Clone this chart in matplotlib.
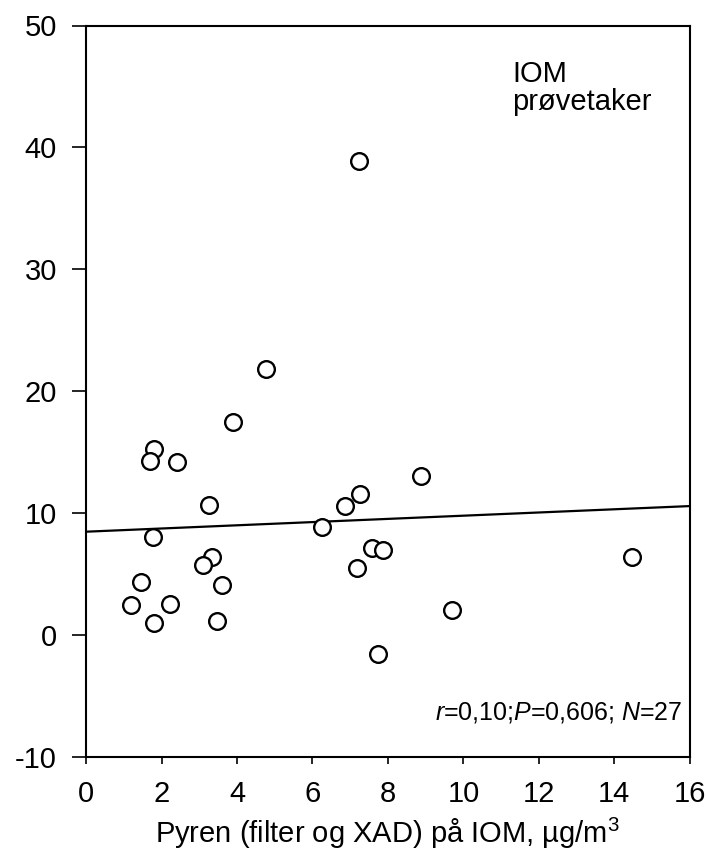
import matplotlib.pyplot as plt

plt.rcParams['font.family'] = ['Liberation Sans', 'DejaVu Sans']
plt.rcParams['axes.unicode_minus'] = False
plt.rcParams['mathtext.fontset'] = 'custom'
plt.rcParams['mathtext.rm'] = 'Liberation Sans'
plt.rcParams['mathtext.it'] = 'Liberation Sans:italic'

# Pyren on IOM (x) vs. response (y)
pyren = [7.24, 4.76, 3.89, 1.81, 1.69, 2.41, 8.88, 7.27, 3.27, 6.85,
         6.25, 1.78, 7.57, 7.86, 3.33, 14.46, 3.11, 7.17, 1.46, 3.60,
         1.18, 2.22, 9.69, 1.80, 3.47, 7.74]
value = [38.9, 21.8, 17.5, 15.3, 14.3, 14.2, 13.1, 11.6, 10.7, 10.6,
         8.9, 8.1, 7.2, 7.0, 6.4, 6.4, 5.8, 5.5, 4.4, 4.1,
         2.5, 2.6, 2.1, 1.0, 1.2, -1.5]

# regression line end points
fit_x = [0, 16]
fit_y = [8.5, 10.6]

xticks = [0, 2, 4, 6, 8, 10, 12, 14, 16]
yticks = [-10, 0, 10, 20, 30, 40, 50]

fig = plt.figure(figsize=(7.06, 8.5), dpi=100)
ax = fig.add_axes([0.122, 0.109, 0.855, 0.861])

ax.plot(fit_x, fit_y, color='black', linewidth=1.6)
ax.plot(pyren, value, 'o', markersize=12, markerfacecolor='white',
        markeredgecolor='black', markeredgewidth=1.7)

ax.set_xlim(0, 16)
ax.set_ylim(-10, 50)
ax.set_xticks(xticks)
ax.set_yticks(yticks)
ax.tick_params(axis='both', labelsize=21, direction='out', width=1.2)
ax.tick_params(axis='y', length=10, pad=11)
ax.tick_params(axis='x', length=5, pad=11)
for s in ax.spines.values():
    s.set_linewidth(1.5)

ax.set_xlabel('Pyren (filter og XAD) på IOM, µg/m$^{3}$', fontsize=21, labelpad=6)

ax.text(11.3, 47.2, 'IOM\nprøvetaker', fontsize=21, va='top', ha='left',
        linespacing=1.03)
ax.text(15.8, -6.9, r'$r$=0,10;$P$=0,606; $N$=27', fontsize=18,
        ha='right', va='baseline')

plt.savefig('out.png', dpi=100)
